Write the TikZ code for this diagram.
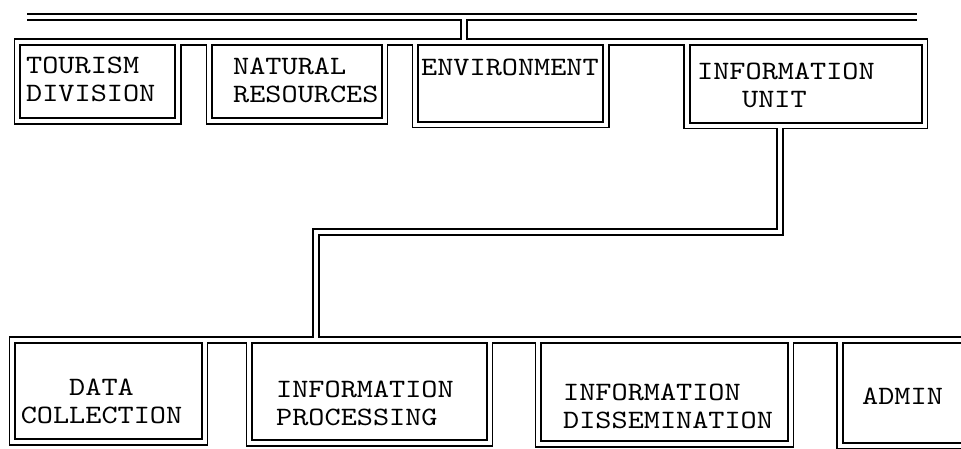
\documentclass[tikz,border=0pt]{standalone}
\usepackage{fontspec}
\newfontfamily\orgfont{lmmono10-regular.otf}[FakeStretch=1.16]
\usetikzlibrary{fit}

% every wire and box edge, drawn once per pass
\newcommand\orgwires[1]{%
    \foreach \n in {tour,nat,env,infou,data,proc,diss,admin}
        \draw[#1] (\n.north west) rectangle (\n.south east);
    \draw[#1] (barl) -- (barr);
    \draw[#1] (hub) -- (hub |- env.north);
    \draw[#1] (tour.north west) -- (infou.north east);
    \draw[#1] (tap |- infou.south) |- (bend) -- (bend |- proc.north);
    \draw[#1] (data.north west) -- (admin.north east);
}

\begin{document}
\begin{tikzpicture}[x=1pt, y=-1pt,
    cell/.style={inner sep=0pt},
    lbl/.style={inner sep=0pt, anchor=base west, align=left,
        font=\orgfont\fontsize{26.5}{28}\selectfont},
    rim/.style={line width=7.5pt, black},
    core/.style={line width=4pt, white}]
    \path[use as bounding box, clip] (0,0) rectangle (961,449);
    \fill[white] (0,0) rectangle (961,449);

    % Units under the top bar
    \foreach \n/\l/\r/\b in {tour/17.5/178/121, nat/209.5/384.5/121,
        env/415.5/606/124.5, infou/687/924.5/125.5}
        \node[cell, fit={(\l,42) (\r,\b)}] (\n) {};

    % Sections of the information unit
    \foreach \n/\l/\r/\b in {data/12.5/204.5/442, proc/249.5/489.5/443,
        diss/538.5/790.5/444, admin/840/968/446}
        \node[cell, fit={(\l,340) (\r,\b)}] (\n) {};

    \coordinate (barl) at (27,17);
    \coordinate (barr) at (917,17);
    \coordinate (hub) at (464,17);
    \coordinate (tap) at (780,0);
    \coordinate (bend) at (316,232);

    % Double lines: dark rim first, then the white core
    \orgwires{rim}
    \orgwires{core}

    % Labels (base = last line)
    \node[lbl] (tourtxt) at (26,102) {TOURISM\\DIVISION};
    \node[lbl] (nattxt) at (233,103) {NATURAL\\RESOURCES};
    \node[lbl] (envtxt) at (421,76) {ENVIRONMENT};
    \node[lbl] (infoutxt) at (697,108) {INFORMATION\\\hspace*{45pt}UNIT};
    \node[lbl, anchor=base, align=center] (datatxt) at (101.5,423) {DATA\\COLLECTION};
    \node[lbl] (proctxt) at (276,425) {INFORMATION\\PROCESSING};
    \node[lbl] (disstxt) at (563,428) {INFORMATION\\DISSEMINATION};
    \node[lbl] (admintxt) at (862,404) {ADMIN};
\end{tikzpicture}
\end{document}
